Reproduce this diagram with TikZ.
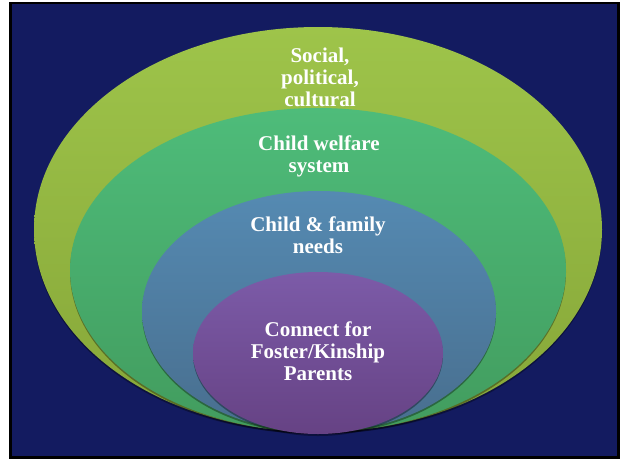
\documentclass[tikz,border=0pt]{standalone}
\usepackage{fontspec}
\setmainfont{Liberation Serif}
\definecolor{navy}{RGB}{19,27,96}
\definecolor{ygTop}{RGB}{158,196,74}
\definecolor{ygBot}{RGB}{134,166,56}
\definecolor{grTop}{RGB}{78,188,122}
\definecolor{grBot}{RGB}{66,156,94}
\definecolor{blTop}{RGB}{85,138,178}
\definecolor{blBot}{RGB}{72,110,142}
\definecolor{puTop}{RGB}{124,91,168}
\definecolor{puBot}{RGB}{102,66,132}
\tikzset{
  lbl/.style={text=white, font=\fontsize{21}{22}\selectfont\bfseries, align=center},
  shadowell/.style={fill=black, opacity=0.35}
}
\begin{document}
\begin{tikzpicture}[x=1pt,y=-1pt]
\useasboundingbox (0,0) rectangle (624,459);
\fill[white] (0,0) rectangle (624,459);
\fill[black] (9,2) rectangle (620,459);
\fill[navy] (12,4) rectangle (617,456);
% outer
\fill[shadowell] (318,231.5) ellipse [x radius=284, y radius=202.5];
\shade[top color=ygTop, bottom color=ygBot] (318,229.5) ellipse [x radius=284, y radius=202.5];
% green
\fill[shadowell] (318,272) ellipse [x radius=248, y radius=162];
\shade[top color=grTop, bottom color=grBot] (318,270) ellipse [x radius=248, y radius=162];
% blue
\fill[shadowell] (319,313.5) ellipse [x radius=177, y radius=120.5];
\shade[top color=blTop, bottom color=blBot] (319,311.5) ellipse [x radius=177, y radius=120.5];
% purple
\fill[shadowell] (318,355) ellipse [x radius=125, y radius=81];
\shade[top color=puTop, bottom color=puBot] (318,353) ellipse [x radius=125, y radius=81];
\node[lbl] (social) at (320,77) {Social,\\political,\\cultural};
\node[lbl] (welfare) at (319,156) {Child welfare\\system};
\node[lbl] (needs) at (318,235) {Child \& family\\needs};
\node[lbl] (connect) at (318,351) {Connect for\\Foster/Kinship\\Parents};
\end{tikzpicture}
\end{document}
